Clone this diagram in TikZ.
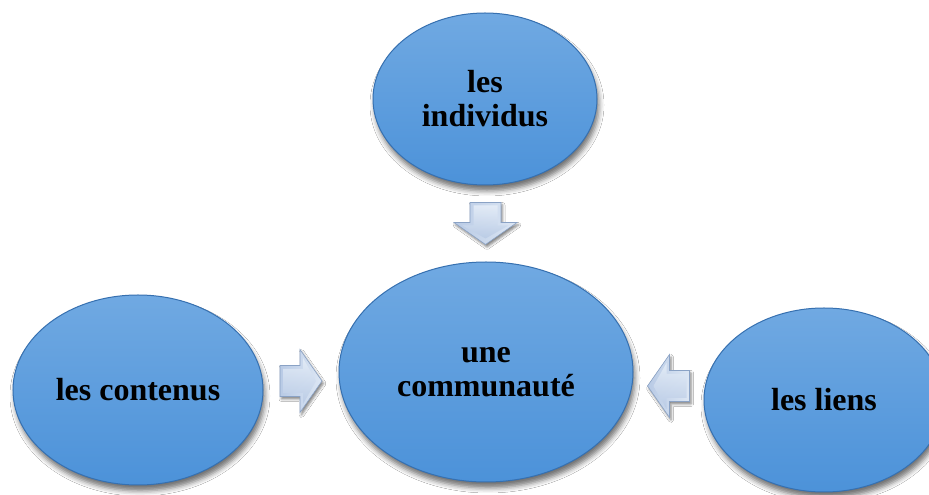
\documentclass[tikz,border=0pt]{standalone}
\usepackage{fontspec}
\setmainfont{Liberation Serif}
\usetikzlibrary{shapes.geometric,calc,shadows.blur}

\definecolor{bubtop}{HTML}{70A9E2}
\definecolor{bubbot}{HTML}{4C92D9}
\definecolor{bubrim}{HTML}{3670B0}
\definecolor{arrlight}{HTML}{E6EEF8}
\definecolor{arrmid}{HTML}{B8CAE5}
\definecolor{arrdark}{HTML}{8AA2C5}

\tikzset{
  bubble/.style={ellipse, inner sep=0pt, align=center,
    top color=bubtop, bottom color=bubbot, draw=bubrim, line width=1pt,
    font=\fontsize{32}{34}\selectfont\bfseries,
    blur shadow={shadow xshift=2pt, shadow yshift=-6pt,
      shadow blur radius=5pt, shadow opacity=55}},
  % bevelled block arrow pointing along +x, centred on the origin
  blockarr/.pic={
    \path[blur shadow={shadow xshift=1.5pt, shadow yshift=-2.5pt,
        shadow blur radius=2.5pt, shadow opacity=50},
        left color=arrmid, right color=arrlight!80!arrmid,
        draw=arrdark, line width=0.6pt, line join=miter]
      (-21,15.5) -- (-1,15.5) -- (-1,31.5) -- (21,0) -- (-1,-31.5)
      -- (-1,-15.5) -- (-21,-15.5) -- cycle;
    \path[top color=arrlight, bottom color=arrmid, opacity=0.85]
      (-18,12) -- (2,12) -- (2,23) -- (15,0) -- (2,-23)
      -- (2,-12) -- (-18,-12) -- cycle;
  }
}

\begin{document}
\begin{tikzpicture}[x=1pt, y=1pt]
  \useasboundingbox (0,0) rectangle (929,495);
  \fill[white] (0,0) rectangle (929,495);
  \clip (0,0) rectangle (929,495);

  % the four bubbles
  \node[bubble, minimum width=224pt, minimum height=172pt] (ind)   at (485,396) {les\\individus};
  \node[bubble, minimum width=294pt, minimum height=220pt] (com)   at (486,123) {une\\communauté};
  \node[bubble, minimum width=250pt, minimum height=190pt] (cont)  at (138,105) {les contenus};
  \node[bubble, minimum width=240pt, minimum height=184pt] (liens) at (824,95)  {les liens};

  % block arrows pointing into the central bubble
  \coordinate (a1) at ($(ind.south)!.5!(com.north)$);
  \coordinate (a2) at ($(cont.east)!.5!(com.west)$);
  \coordinate (a3) at ($(liens.west)!.5!(com.east)$);
  \pic[rotate=-90] at (a1) {blockarr};
  \pic at (a2) {blockarr};
  \pic[rotate=180] at (a3) {blockarr};
\end{tikzpicture}
\end{document}
